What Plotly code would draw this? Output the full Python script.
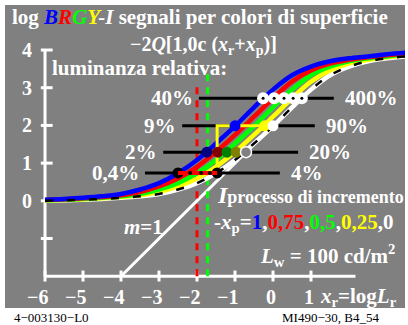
import plotly.graph_objects as go

# x_r grid and the five curves (log relative luminance)
X_R = [-6, -5.5, -5, -4.5, -4, -3.5, -3, -2.5, -2, -1.5, -1, -0.5, 0, 0.5, 1, 1.5, 2, 2.5, 3, 3.5]
Y_WHITE = [0.00, 0.015, 0.03, 0.05, 0.08, 0.12, 0.18, 0.30, 0.47, 0.73, 1.08, 1.52, 1.98, 2.48, 2.95, 3.33, 3.56, 3.70, 3.78, 3.83]
Y_YELLOW = [0.01, 0.02, 0.04, 0.065, 0.10, 0.15, 0.235, 0.38, 0.59, 0.90, 1.30, 1.75, 2.23, 2.72, 3.16, 3.46, 3.64, 3.74, 3.81, 3.86]
Y_GREEN = [0.015, 0.03, 0.05, 0.08, 0.12, 0.18, 0.30, 0.47, 0.73, 1.08, 1.52, 1.98, 2.48, 2.95, 3.33, 3.56, 3.70, 3.78, 3.83, 3.89]
Y_RED = [0.02, 0.04, 0.065, 0.10, 0.15, 0.235, 0.38, 0.59, 0.90, 1.30, 1.75, 2.23, 2.72, 3.16, 3.46, 3.64, 3.74, 3.81, 3.86, 3.91]
Y_BLUE = [0.03, 0.05, 0.08, 0.12, 0.18, 0.30, 0.47, 0.73, 1.08, 1.52, 1.98, 2.48, 2.95, 3.33, 3.56, 3.70, 3.78, 3.83, 3.89, 3.93]

# reference rows (horizontal black bars)
ROW_Y = [2.72, 1.99, 1.29, 0.74]
ROW_X0 = [-1.95, -2.39, -2.89, -3.37]
ROW_X1 = [1.6, 1.1, 0.66, 0.18]
LEFT_LABELS = ["40%", "9%", "2%", "0,4%"]
RIGHT_LABELS = ["400%", "90%", "20%", "4%"]

# curve crossings on each row
ROW40_X = [-0.26, 0.03, 0.29, 0.53, 0.76]
ROW9_X = [-1.0, -0.22, 0.0]
ROW2_X = [-1.74, -1.45, -1.21, -0.97, -0.71]
ROW04_X = [-2.5, -2.18, -1.89, -1.66, -1.47]

X_TICKS = [-6, -5, -4, -3, -2, -1, 0, 1]
X_TICK_LABELS = ["\u22126", "\u22125", "\u22124", "\u22123", "\u22122", "\u22121", "0", "1"]
Y_TICKS = [-1, 0, 1, 2, 3, 4]
Y_LABEL_VALS = [0, 1, 2, 3, 4]

RED_DASH_X, RED_DASH_TOP = -2.0, 3.02
GREEN_DASH_X, GREEN_DASH_TOP = -1.72, 3.39

GRAY = "#808080"
FONT = "Liberation Serif, Times New Roman, serif"

fig = go.Figure()


def line(x, y, color, width, dash=None):
    fig.add_trace(go.Scatter(x=x, y=y, mode="lines", hoverinfo="skip",
                             line=dict(color=color, width=width, dash=dash)))


# axes
line([-6, -6], [-2, 4], "white", 3)
line([-6, 2.17], [-2, -2], "white", 3)
for t in Y_TICKS:
    line([-6.11, -5.8], [t, t], "white", 3)
for t in X_TICKS:
    line([t, t], [-2.14, -1.85], "white", 3)

# m=1 line and dashed verticals
line([-4, 0], [-2, 2], "white", 3)
line([RED_DASH_X, RED_DASH_X], [-2, RED_DASH_TOP], "#ff0000", 3, "7px,6px")
line([GREEN_DASH_X, GREEN_DASH_X], [-2, GREEN_DASH_TOP], "#00ff00", 3, "7px,6px")

# row bars
for y, x0, x1 in zip(ROW_Y, ROW_X0, ROW_X1):
    line([x0, x1], [y, y], "black", 3)

# curves
for ys, c in [(Y_WHITE, "white"), (Y_YELLOW, "#ffff00"), (Y_GREEN, "#00ff00"),
              (Y_RED, "#ff0000"), (Y_BLUE, "#0000ff")]:
    fig.add_trace(go.Scatter(x=X_R, y=ys, mode="lines", hoverinfo="skip",
                             line=dict(color=c, width=4.5, shape="spline")))
fig.add_trace(go.Scatter(x=X_R, y=Y_WHITE, mode="lines", hoverinfo="skip",
                         line=dict(color="black", width=2.5, shape="spline", dash="8px,14px")))

# row markers
fig.add_trace(go.Scatter(x=ROW40_X, y=[ROW_Y[0]] * 5, mode="markers", hoverinfo="skip",
                         marker=dict(size=12, color="white", line=dict(width=0))))
fig.add_trace(go.Scatter(x=ROW40_X, y=[ROW_Y[0]] * 5, mode="markers", hoverinfo="skip",
                         marker=dict(size=3, color="black")))

# yellow path
line([ROW04_X[-1], ROW04_X[-1], ROW9_X[1]], [ROW_Y[3], ROW_Y[1], ROW_Y[1]], "#ffff00", 3)
fig.add_trace(go.Scatter(x=ROW9_X, y=[ROW_Y[1]] * 3, mode="markers", hoverinfo="skip",
                         marker=dict(size=11, color=["#0000ff", "#ffff00", "white"])))

fig.add_trace(go.Scatter(x=ROW2_X, y=[ROW_Y[2]] * 5, mode="markers", hoverinfo="skip",
                         marker=dict(size=11, color=["#000080", "#800000", "#008000", "#808000", GRAY],
                                     line=dict(width=[0, 0, 0, 0, 1.5], color="white"))))

fig.add_trace(go.Scatter(x=[ROW04_X[0], ROW04_X[-1]], y=[ROW_Y[3]] * 2, mode="markers", hoverinfo="skip",
                         marker=dict(size=11, color="black")))
line([ROW04_X[0], ROW04_X[-1]], [ROW_Y[3], ROW_Y[3]], "#ff0000", 4)
fig.add_trace(go.Scatter(x=ROW04_X[1:-1], y=[ROW_Y[3]] * 3, mode="markers", hoverinfo="skip",
                         marker=dict(size=4, color="black")))

ann = []


def text(x, y, s, size=20, xa="left", ya="middle", ref="x", yref="y", color="white"):
    ann.append(dict(x=x, y=y, xref=ref, yref=yref, text=s, showarrow=False, xanchor=xa, yanchor=ya,
                    font=dict(family=FONT, size=size, color=color)))


for t, lab in zip(X_TICKS, X_TICK_LABELS):
    text(t + 0.14, -2.55, "<b>%s</b>" % lab, xa="right")
for t in Y_LABEL_VALS:
    text(-6.29, t, "<b>%d</b>" % t, xa="right")

for y, x0, x1, l, r in zip(ROW_Y, ROW_X0, ROW_X1, LEFT_LABELS, RIGHT_LABELS):
    text(x0 - 0.1, y, "<b>%s</b>" % l, xa="right", size=21)
    text(x1 + 0.23, y, "<b>%s</b>" % r, xa="left", size=21)

text(-6.92, 4.88, "<b>log <i><span style='color:#0000ff'>B</span><span style='color:#ff0000'>R</span>"
     "<span style='color:#00ff00'>G</span><span style='color:#ffff00'>Y</span>-I</i>"
     " segnali per colori di superficie</b>", size=21)
text(-3.82, 4.11, "<b>\u22122<i>Q</i>[1,0c (<i>x</i><sub>r</sub>+<i>x</i><sub>p</sub>)]</b>", size=20)
text(-5.87, 3.52, "<b>luminanza relativa:</b>", size=21)
text(-1.53, 0.16, "<b><i><span style='font-size:24px'>I</span></i>processo di incremento</b>", size=18)
text(-3.97, -0.69, "<b><i>m</i>=1</b>", size=21)
text(-1.61, -0.6, "<b>-<i>x</i><sub>p</sub>=<span style='color:#0000ff'>1</span>,"
     "<span style='color:#ff0000'>0,75</span>,<span style='color:#00ff00'>0,5</span>,"
     "<span style='color:#ffff00'>0,25</span>,0</b>", size=21)
text(3.26, -1.44, "<b><i>L</i><sub>w</sub> = 100 cd/m<sup>2</sup></b>", xa="right", size=21)
text(1.18, -2.55, "<b><i>x</i><sub>r</sub>=log<i>L</i><sub>r</sub></b>", size=21)

text(0.0175, -0.031, "4\u2212003130\u2212L0", size=13, ref="paper", yref="paper", color="black")
text(0.6875, -0.031, "MI490\u221230, B4_54", size=13, ref="paper", yref="paper", color="black")

fig.update_layout(width=408, height=325, margin=dict(l=5, r=3, t=5, b=17),
                  paper_bgcolor="white", plot_bgcolor=GRAY, showlegend=False,
                  xaxis=dict(range=[-7.053, 3.474], visible=False, fixedrange=True),
                  yaxis=dict(range=[-2.843, 5.194], visible=False, fixedrange=True),
                  annotations=ann)

fig.write_html("out.html", config={"displayModeBar": False},
               post_script="document.body.style.margin='0';")
